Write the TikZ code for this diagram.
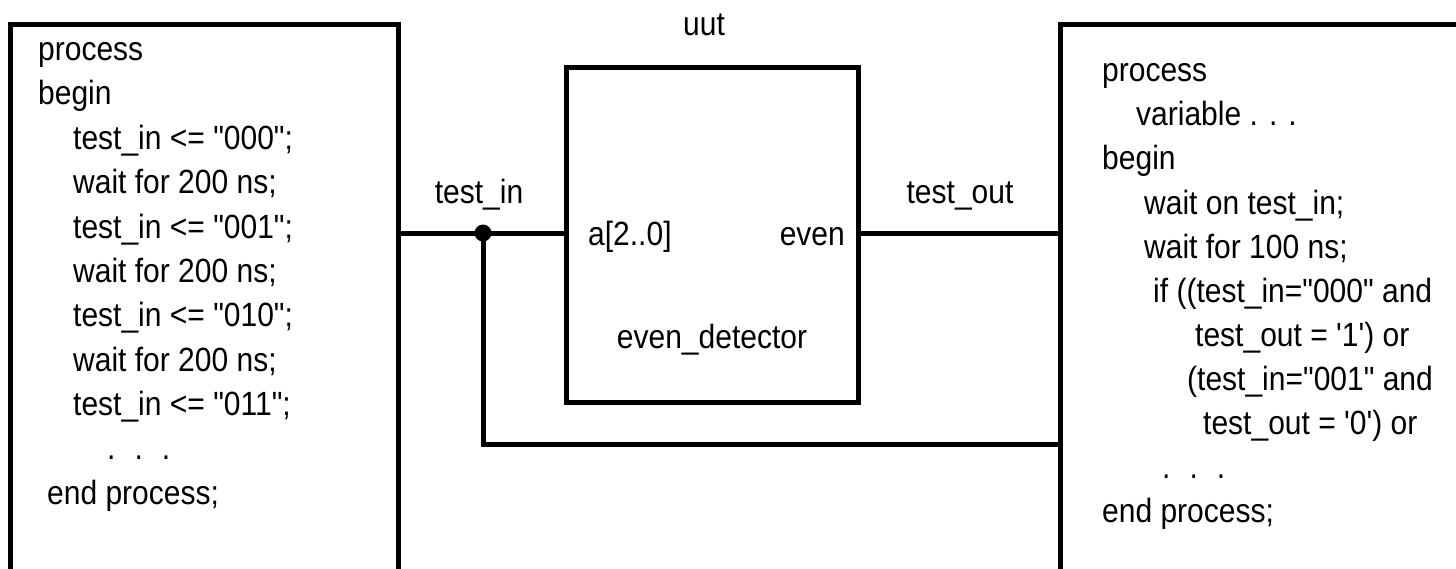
\documentclass[tikz,border=0pt]{standalone}
\usepackage{fontspec}
\usepackage{graphicx}
\newfontfamily\codefont{Liberation Sans}
\newcommand{\dq}{\symbol{34}}
\newcommand{\sq}{\symbol{39}}
\newcommand{\tx}[1]{\scalebox{1}[1.12]{#1}}
\begin{document}
\begin{tikzpicture}[x=1pt,y=-1pt,
  box/.style={draw=black,line width=5pt,rectangle,inner sep=0pt,outer sep=0pt,anchor=north west},
  wire/.style={draw=black,line width=5pt,line cap=rect},
  code/.style={anchor=base west,inner sep=0pt,font=\codefont\fontsize{30}{36}\selectfont},
  lbl/.style={anchor=base,inner sep=0pt,font=\codefont\fontsize{30}{36}\selectfont},
  junction/.style={circle,fill=black,inner sep=0pt,minimum size=17pt}]
\useasboundingbox (0,0) rectangle (1456,568);
\clip (0,0) rectangle (1456,568);
\fill[white] (0,0) rectangle (1456,568);
% boxes
\node[box,minimum width=388pt,minimum height=548pt] (stim) at (10,24) {};
\node[box,minimum width=292pt,minimum height=335pt] (uut) at (566,67) {};
\node[box,minimum width=420pt,minimum height=548pt] (chk) at (1060,24) {};
% connection points
\coordinate (sout) at (398,233);
\coordinate (ain) at (566,233);
\coordinate (eout) at (858,233);
\coordinate (cin) at (1060,233);
\coordinate (cin2) at (1060,444);
\node[junction] (dot) at (483,233) {};
% wires
\draw[wire] (sout) -- (dot.center) -- (ain);
\draw[wire] (dot.center) |- (cin2);
\draw[wire] (eout) -- (cin);
% labels
\node[lbl] (uutname) at (704,35) {\tx{uut}};
\node[lbl] (tin) at (479,203) {\tx{test\_in}};
\node[lbl] (tout) at (960,203) {\tx{test\_out}};
\node[code] (pa) at (588,245) {\tx{a[2..0]}};
\node[code,anchor=base east] (pe) at (845,245) {\tx{even}};
\node[lbl] (ename) at (712,348) {\tx{even\_detector}};
% left code
\node[code] (l1) at (38,60) {\tx{process}};
\node[code] (l2) at (38,104.5) {\tx{begin}};
\node[code] (l3) at (73,149) {\tx{test\_in <= \dq000\dq;}};
\node[code] (l4) at (73,193) {\tx{wait for 200 ns;}};
\node[code] (l5) at (73,238) {\tx{test\_in <= \dq001\dq;}};
\node[code] (l6) at (73,282) {\tx{wait for 200 ns;}};
\node[code] (l7) at (73,326) {\tx{test\_in <= \dq010\dq;}};
\node[code] (l8) at (73,371) {\tx{wait for 200 ns;}};
\node[code] (l9) at (73,415) {\tx{test\_in <= \dq011\dq;}};
\node[code] (l10) at (107,459) {\tx{.\hspace{19pt}.\hspace{19pt}.}};
\node[code] (l11) at (47,504) {\tx{end process;}};
% right code
\node[code] (r1) at (1102,81) {\tx{process}};
\node[code] (r2) at (1136,125) {\tx{variable . . .}};
\node[code] (r3) at (1102,169) {\tx{begin}};
\node[code] (r4) at (1144,214) {\tx{wait on test\_in;}};
\node[code] (r5) at (1144,258) {\tx{wait for 100 ns;}};
\node[code] (r6) at (1153,302) {\tx{if ((test\_in=\dq000\dq{} and}};
\node[code] (r7) at (1195,346) {\tx{test\_out = \sq1\sq) or}};
\node[code] (r8) at (1187,390) {\tx{(test\_in=\dq001\dq{} and}};
\node[code] (r9) at (1203,434) {\tx{test\_out = \sq0\sq) or}};
\node[code] (r10) at (1162,478) {\tx{.\hspace{19pt}.\hspace{19pt}.}};
\node[code] (r11) at (1102,522) {\tx{end process;}};
\end{tikzpicture}
\end{document}
